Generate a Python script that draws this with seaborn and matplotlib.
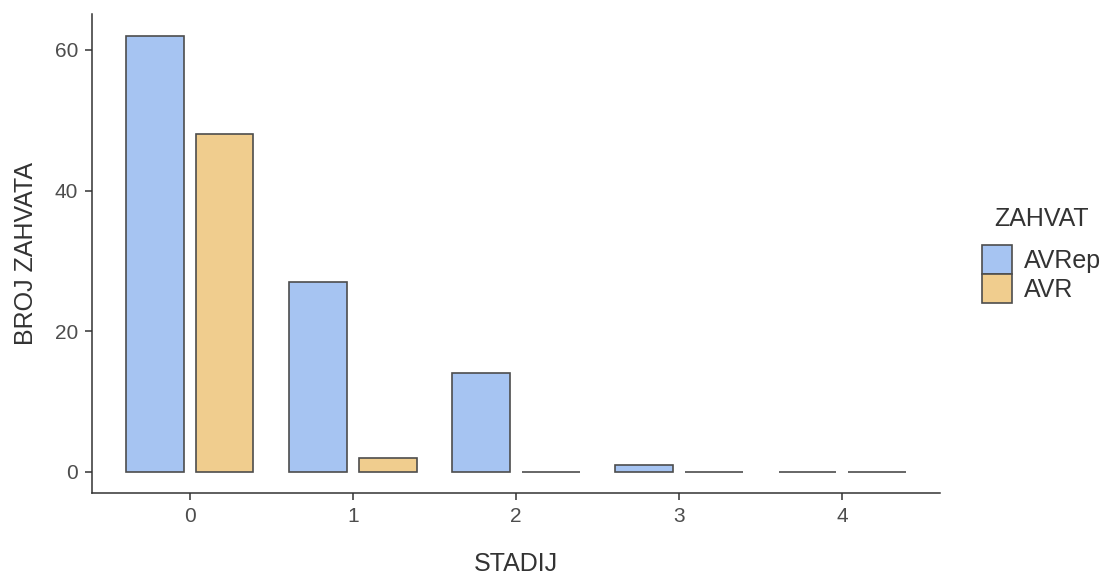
import pandas as pd
import matplotlib.pyplot as plt
import seaborn as sns

# data
stadij = [0, 1, 2, 3, 4]
avrep = [62, 27, 14, 1, 0]
avr = [48, 2, 0, 0, 0]
zahvat_order = ["AVRep", "AVR"]
colors = ["#A6C4F2", "#F0CD8E"]

df = pd.DataFrame({
    "STADIJ": stadij * 2,
    "BROJ ZAHVATA": avrep + avr,
    "ZAHVAT": ["AVRep"] * len(stadij) + ["AVR"] * len(stadij),
})

sns.set_style("white")
plt.rcParams["font.family"] = ["Liberation Sans", "DejaVu Sans"]

fig = plt.figure(figsize=(11.17, 5.75), dpi=100)
ax = fig.add_axes([0.0824, 0.1426, 0.7591, 0.8331])

sns.barplot(data=df, x="STADIJ", y="BROJ ZAHVATA", hue="ZAHVAT",
            hue_order=zahvat_order, palette=colors, saturation=1,
            width=0.85, gap=0.165, edgecolor="#4d4d4d", linewidth=1.2, ax=ax)

ax.set_xlim(-0.6, 4.6)
ax.set_ylim(-3, 65.1)
ax.set_yticks([0, 20, 40, 60])

for side in ["top", "right"]:
    ax.spines[side].set_visible(False)
for side in ["left", "bottom"]:
    ax.spines[side].set_color("#333333")
    ax.spines[side].set_linewidth(1.1)

ax.tick_params(axis="both", which="major", length=5, width=1.1, color="#333333",
               labelsize=15, labelcolor="#4d4d4d", pad=5, direction="out",
               bottom=True, left=True)

ax.set_xlabel("STADIJ", fontsize=18, color="#333333", labelpad=19)
ax.set_ylabel("BROJ ZAHVATA", fontsize=18, color="#333333", labelpad=12)

handles, labels = ax.get_legend_handles_labels()
if ax.legend_:
    ax.legend_.remove()
leg = fig.legend(handles, labels, title="ZAHVAT", loc="upper left",
                 bbox_to_anchor=(0.8795, 0.64), frameon=False,
                 fontsize=18, title_fontsize=18, handlelength=1.2,
                 handleheight=1.4, labelspacing=0.0, handletextpad=0.45,
                 borderaxespad=0, borderpad=0)
leg._legend_box.sep = 10
for t in leg.get_texts():
    t.set_color("#333333")
leg.get_title().set_color("#333333")

fig.savefig("out.png", dpi=100)
